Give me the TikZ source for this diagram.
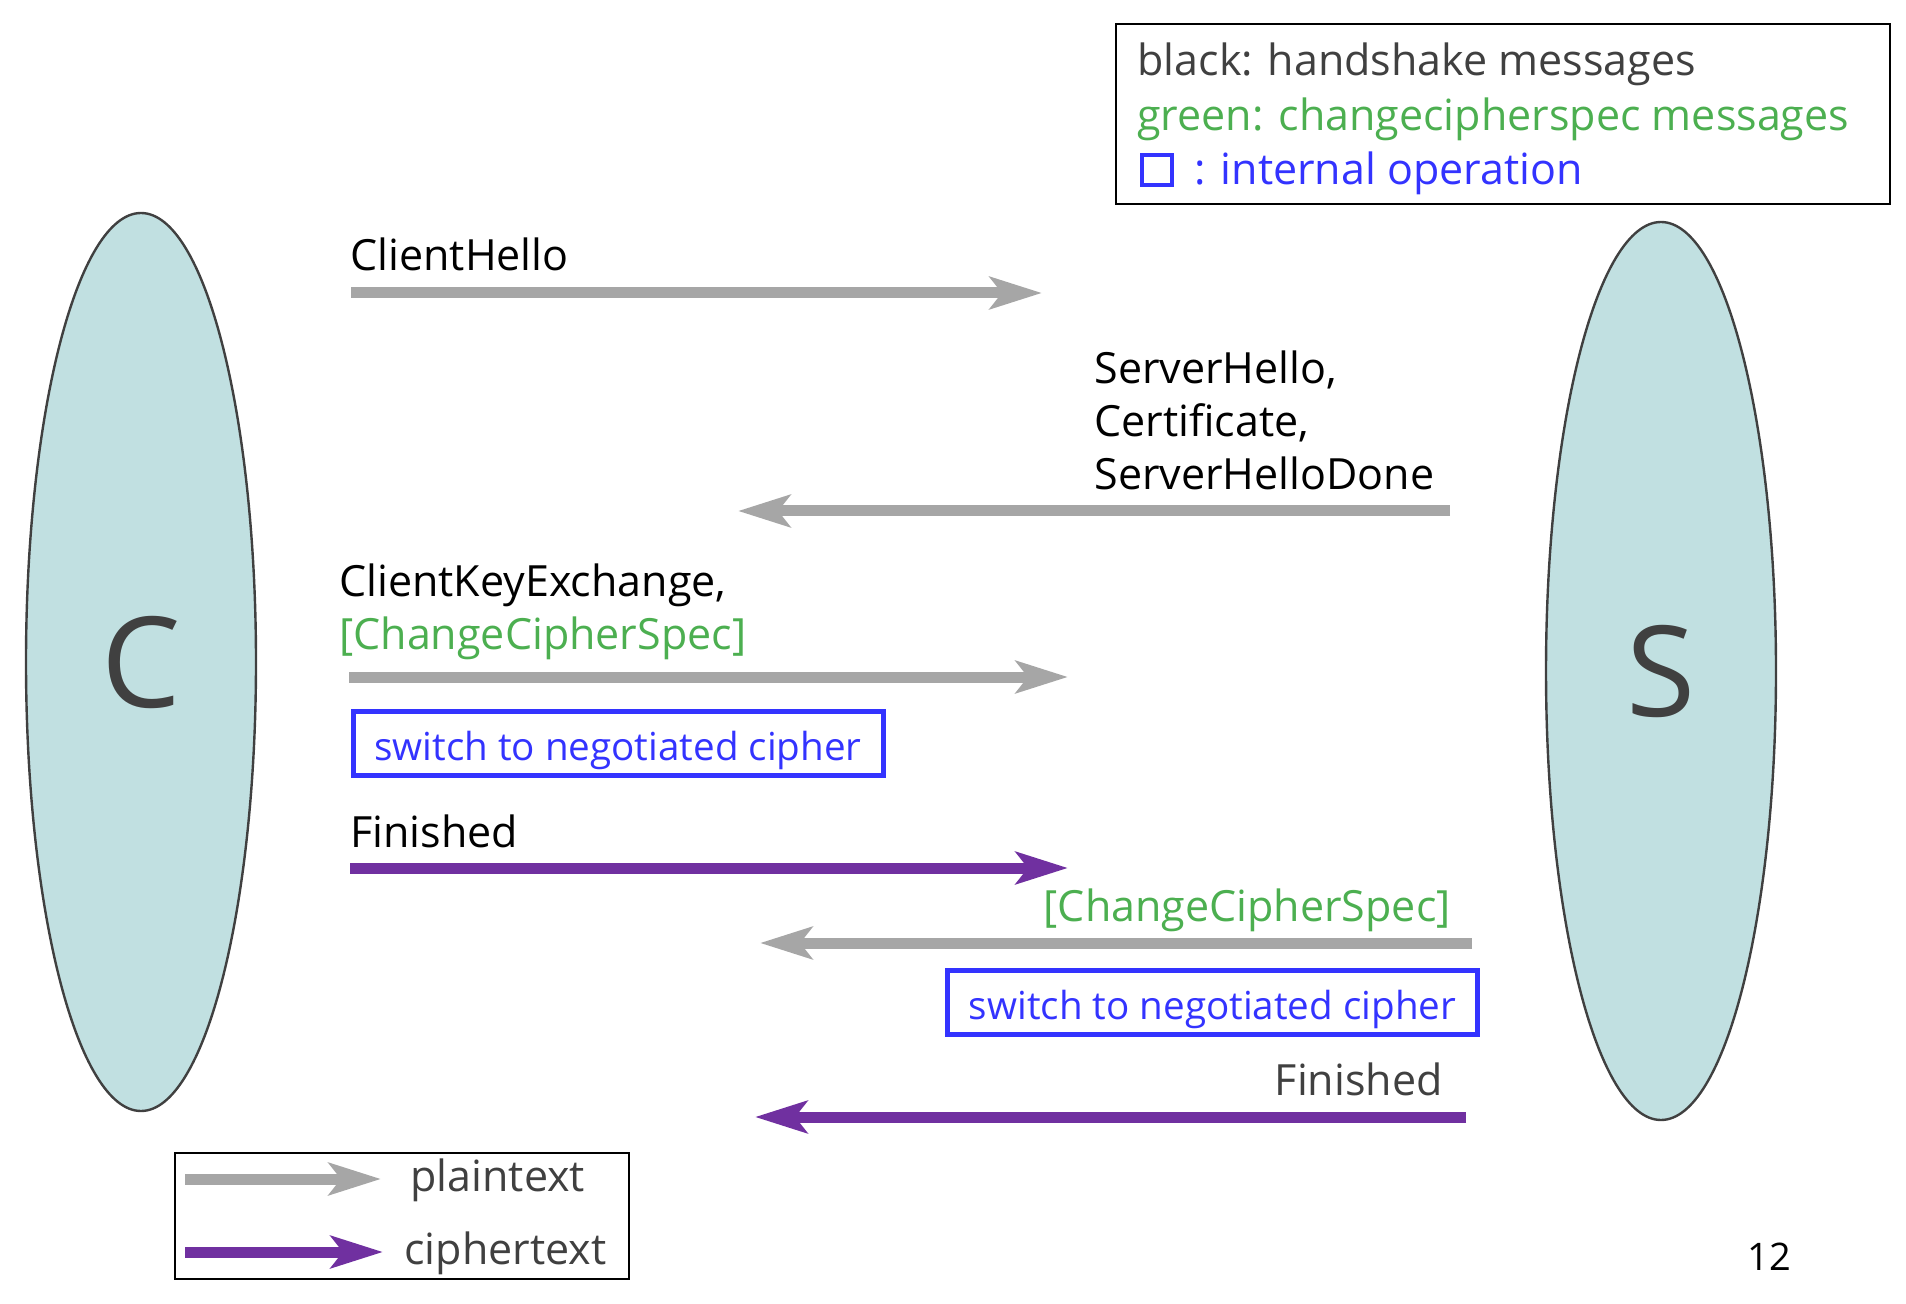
\documentclass[tikz,border=0pt]{standalone}
\usepackage{fontspec}
\setmainfont{Open Sans}
\usetikzlibrary{shapes.geometric, arrows.meta}
\definecolor{plaingray}{HTML}{A6A6A6}
\definecolor{cipherpurple}{HTML}{7030A0}
\definecolor{ccsgreen}{HTML}{4CAF50}
\definecolor{opblue}{HTML}{3333FF}
\definecolor{partyfill}{HTML}{C1E0E1}
\definecolor{darktext}{HTML}{404040}
\tikzstyle{party} = [ellipse, minimum width=115pt, minimum height=449pt, draw=darktext, line width=1.2pt, fill=partyfill, text=darktext, font=\fontsize{63}{70}\selectfont]
\tikzstyle{msg} = [anchor=base west, inner sep=0pt, align=left, font=\fontsize{21.5}{26.5}\selectfont]
\tikzstyle{opbox} = [rectangle, draw=opblue, line width=2.5pt, text=opblue, minimum width=265pt, minimum height=32pt, text height=17pt, text depth=0pt, font=\fontsize{19.3}{24}\selectfont]
\tikzstyle{legend} = [rectangle, draw=black, line width=1pt]
\tikzstyle{plainarrow} = [line width=5.5pt, draw=plaingray, -{Stealth[length=26pt, width=16pt, inset=6pt]}]
\tikzstyle{cipherarrow} = [line width=5.5pt, draw=cipherpurple, -{Stealth[length=26pt, width=16pt, inset=6pt]}]
\begin{document}
\begin{tikzpicture}[x=0.5pt, y=-0.5pt]
\useasboundingbox (0,0) rectangle (1906,1304);

% client and server
\node (client) [party] at (141,662) {C};
\node (server) [party] at (1661,671) {S};

% colour key
\node (keybox) [legend, minimum width=387pt, minimum height=90pt] at (1503,114.5) {};
\node (keyblack) [msg, text=darktext] at (1137,76) {black: handshake messages};
\node (keygreen) [msg, text=ccsgreen] at (1137,131) {green: changecipherspec messages};
\node (keysquare) [draw=opblue, line width=2pt, minimum size=15pt, inner sep=0pt] at (1157,170) {};
\node (keyblue) [msg, text=opblue] at (1194,185) {: internal operation};

% handshake
\coordinate (hello1) at (351,293);
\coordinate (hello2) at (1042,293);
\node (hellotext) [msg] at (350,271) {ClientHello};
\draw [plainarrow] (hello1) -- (hello2);

\coordinate (server1) at (1450,511);
\coordinate (server2) at (738,511);
\node (servertext) [msg] at (1094,490) {ServerHello,\\Certificate,\\ServerHelloDone};
\draw [plainarrow] (server1) -- (server2);

\coordinate (cke1) at (349,677);
\coordinate (cke2) at (1068,677);
\node (ckeText) [msg] at (339,649) {ClientKeyExchange,\\\textcolor{ccsgreen}{[ChangeCipherSpec]}};
\draw [plainarrow] (cke1) -- (cke2);

\node (clientswitch) [opbox] at (618,743.5) {switch to negotiated cipher};

\coordinate (cfin1) at (350,868);
\coordinate (cfin2) at (1068,868);
\node (cfintext) [msg] at (350,847) {Finished};
\draw [cipherarrow] (cfin1) -- (cfin2);

\coordinate (sccs1) at (1472,943);
\coordinate (sccs2) at (760,943);
\node (sccstext) [msg, anchor=base east, text=ccsgreen] at (1451,921) {[ChangeCipherSpec]};
\draw [plainarrow] (sccs1) -- (sccs2);

\node (serverswitch) [opbox] at (1212.5,1002) {switch to negotiated cipher};

\coordinate (sfin1) at (1466,1117);
\coordinate (sfin2) at (755,1117);
\node (sfintext) [msg, anchor=base east, text=darktext] at (1443,1095) {Finished};
\draw [cipherarrow] (sfin1) -- (sfin2);

% arrow key
\node (modebox) [legend, minimum width=227pt, minimum height=63pt] at (402,1216) {};
\coordinate (plainkey1) at (185,1179);
\coordinate (plainkey2) at (381,1179);
\draw [plainarrow] (plainkey1) -- (plainkey2);
\node (plainkey) [msg, text=darktext] at (410,1191) {plaintext};
\coordinate (cipherkey1) at (185,1252);
\coordinate (cipherkey2) at (383,1252);
\draw [cipherarrow] (cipherkey1) -- (cipherkey2);
\node (cipherkey) [msg, text=darktext] at (404,1264) {ciphertext};

\node (pagenum) [anchor=base, inner sep=0pt, font=\fontsize{19}{22}\selectfont] at (1769,1270) {12};
\end{tikzpicture}
\end{document}
